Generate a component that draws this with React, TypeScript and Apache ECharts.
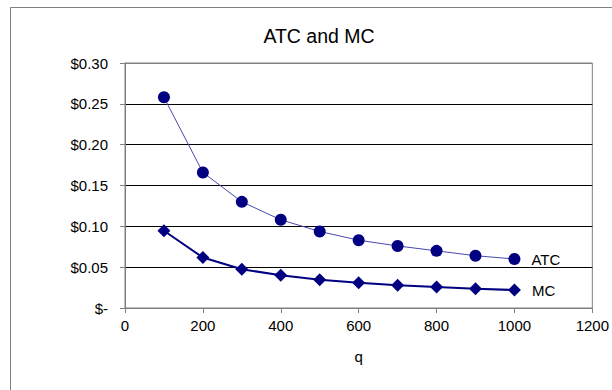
import React, { useEffect, useRef } from "react";
import * as echarts from "echarts";

const quantities = [100, 200, 300, 400, 500, 600, 700, 800, 900, 1000];
const atcValues = [0.258, 0.166, 0.13, 0.108, 0.0937, 0.083, 0.076, 0.07, 0.064, 0.06];
const mcValues = [0.0946, 0.0618, 0.0475, 0.04, 0.0345, 0.031, 0.028, 0.0258, 0.0237, 0.022];
const seriesNames = ["ATC", "MC"];
const chartTitle = "ATC and MC";
const xAxisName = "q";

function buildData(values: number[], label: string) {
  return quantities.map((q, i) => {
    if (i === quantities.length - 1) {
      return {
        value: [q, values[i]],
        label: {
          show: true,
          position: "right",
          distance: 11,
          formatter: label,
          color: "#000",
          fontSize: 15,
          fontFamily: "Liberation Sans, Arial, sans-serif",
        },
      };
    }
    return { value: [q, values[i]] };
  });
}

export default function App() {
  const ref = useRef<HTMLDivElement>(null);
  useEffect(() => {
    document.body.style.margin = "0";
    const chart = echarts.init(ref.current!, null, { renderer: "svg" });
    const font = "Liberation Sans, Arial, sans-serif";
    chart.setOption({
      animation: false,
      backgroundColor: "#fff",
      textStyle: { fontFamily: font },
      graphic: [
        {
          type: "rect",
          shape: { x: 10.5, y: 7.5, width: 700, height: 500 },
          style: { fill: "none", stroke: "#808080", lineWidth: 1 },
          silent: true,
          z: 0,
        },
        {
          type: "text",
          x: 319,
          y: 36,
          style: {
            text: chartTitle,
            fontSize: 19.5,
            fontFamily: font,
            fill: "#000",
            align: "center",
            verticalAlign: "middle",
          },
          silent: true,
        },
      ],
      grid: {
        left: 125,
        top: 63,
        right: 19,
        bottom: 82,
        show: true,
        borderColor: "#808080",
        borderWidth: 1,
      },
      xAxis: {
        type: "value",
        min: 0,
        max: 1200,
        interval: 200,
        name: xAxisName,
        nameLocation: "middle",
        nameGap: 41,
        nameTextStyle: { fontSize: 15, color: "#000", fontFamily: font },
        axisLine: { show: true, lineStyle: { color: "#808080", width: 1 } },
        axisTick: { show: true, length: 5, lineStyle: { color: "#808080" } },
        axisLabel: {
          fontSize: 15,
          color: "#000",
          margin: 10,
          fontFamily: font,
          formatter: (v: number) => String(v),
        },
        splitLine: { show: false },
      },
      yAxis: {
        type: "value",
        min: 0,
        max: 0.3,
        interval: 0.05,
        axisLine: { show: true, lineStyle: { color: "#808080", width: 1 } },
        axisTick: { show: true, length: 5, lineStyle: { color: "#808080" } },
        axisLabel: {
          fontSize: 15,
          color: "#000",
          margin: 17,
          fontFamily: font,
          formatter: (v: number) => (Math.abs(v) < 1e-9 ? "$-" : "$" + v.toFixed(2)),
        },
        splitLine: {
          show: true,
          lineStyle: { color: ["#808080", "#000", "#000", "#000", "#000", "#000", "#808080"], width: 1 },
        },
      },
      series: [
        {
          name: seriesNames[0],
          type: "line",
          data: buildData(atcValues, seriesNames[0]),
          smooth: false,
          symbol: "circle",
          symbolSize: 12,
          itemStyle: { color: "#000080" },
          lineStyle: { color: "#4848b0", width: 1 },
          z: 3,
        },
        {
          name: seriesNames[1],
          type: "line",
          data: buildData(mcValues, seriesNames[1]),
          symbol: "diamond",
          symbolSize: 13,
          itemStyle: { color: "#000080" },
          lineStyle: { color: "#000080", width: 2 },
          z: 3,
        },
      ],
    });
    return () => chart.dispose();
  }, []);
  return (
    <div
      ref={ref}
      style={{ position: "absolute", left: 0, top: 0, width: 612, height: 390 }}
    />
  );
}
